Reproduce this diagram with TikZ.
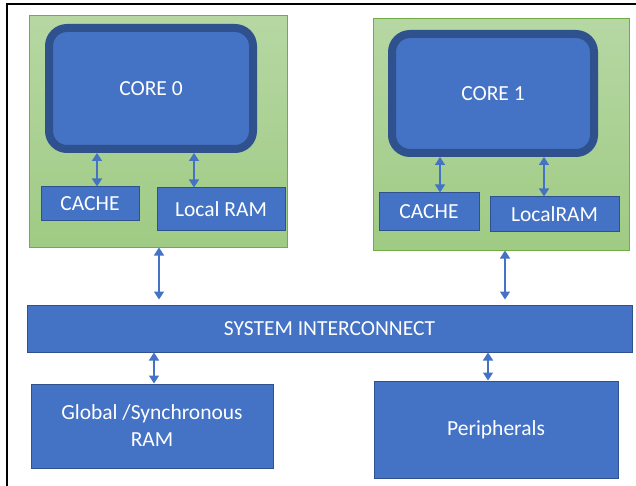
\documentclass[tikz,border=0pt]{standalone}
\usepackage{fontspec}
\setmainfont{Carlito}
\usetikzlibrary{arrows.meta,backgrounds}
\definecolor{boxblue}{HTML}{4472C4}
\definecolor{edgeblue}{HTML}{2F528F}
\definecolor{greenedge}{HTML}{70AD47}
\definecolor{greentop}{HTML}{B6D7A3}
\definecolor{greenbot}{HTML}{9FCB84}
\tikzset{
  every node/.style={font=\fontsize{21.5}{27}\selectfont, text=white, inner sep=0pt, align=center},
  cluster/.style={draw=greenedge, line width=1pt, top color=greentop, bottom color=greenbot},
  corebox/.style={draw=edgeblue, line width=8pt, fill=boxblue, rounded corners=18pt},
  block/.style={draw=edgeblue, line width=1pt, fill=boxblue},
  biarrow/.style={draw=boxblue, line width=1.5pt, {Triangle[width=10pt,length=8pt]}-{Triangle[width=10pt,length=8pt]}}
}
\begin{document}
\begin{tikzpicture}[x=1pt,y=-1pt]
\useasboundingbox (0,0) rectangle (636,486);
% frame
\draw[line width=2pt, black] (7,490) -- (7,4) -- (640,4);

% core clusters
\node[cluster, minimum width=258pt, minimum height=231pt] (grp0) at (158,131.5) {};
\node[cluster, minimum width=256pt, minimum height=231pt] (grp1) at (501,134.5) {};

\node[corebox, minimum width=204pt, minimum height=121pt] (core0) at (151,88.5) {CORE 0};
\node[block, minimum width=98pt, minimum height=33pt] (cache0) at (90,203.5) {CACHE};
\node[block, minimum width=128pt, minimum height=42pt] (lram0) at (221,209) {Local RAM};

\node[corebox, minimum width=202pt, minimum height=119pt] (core1) at (493,93.5) {CORE 1};
\node[block, minimum width=100pt, minimum height=37pt] (cache1) at (429,211.5) {CACHE};
\node[block, minimum width=129pt, minimum height=34pt] (lram1) at (554.5,214) {LocalRAM};

% shared resources
\node[block, minimum width=605pt, minimum height=47pt] (bus) at (329.5,328.5) {SYSTEM INTERCONNECT};
\node[block, minimum width=242pt, minimum height=84pt] (gram) at (152,426) {Global /Synchronous\\RAM};
\node[block, minimum width=244pt, minimum height=97pt] (peri) at (496,429.5) {Peripherals};

% links inside the clusters
\draw[biarrow] (97,0 |- core0.south) -- (97,0 |- cache0.north);
\draw[biarrow] (194,0 |- core0.south) -- (194,0 |- lram0.north);
\draw[biarrow] (440,0 |- core1.south) -- (440,0 |- cache1.north);
\draw[biarrow] (544,0 |- core1.south) -- (544,0 |- lram1.north);

% links to the interconnect (lower heads tucked under the bus)
\begin{scope}[on background layer]
\draw[biarrow] (159,0 |- grp0.south) -- ([yshift=5pt]159,0 |- bus.north);
\draw[biarrow] (505,0 |- grp1.south) -- ([yshift=5pt]505,0 |- bus.north);
\end{scope}
\draw[biarrow] (154,0 |- bus.south) -- (154,0 |- gram.north);
\draw[biarrow] (488,0 |- bus.south) -- (488,0 |- peri.north);
\end{tikzpicture}
\end{document}
